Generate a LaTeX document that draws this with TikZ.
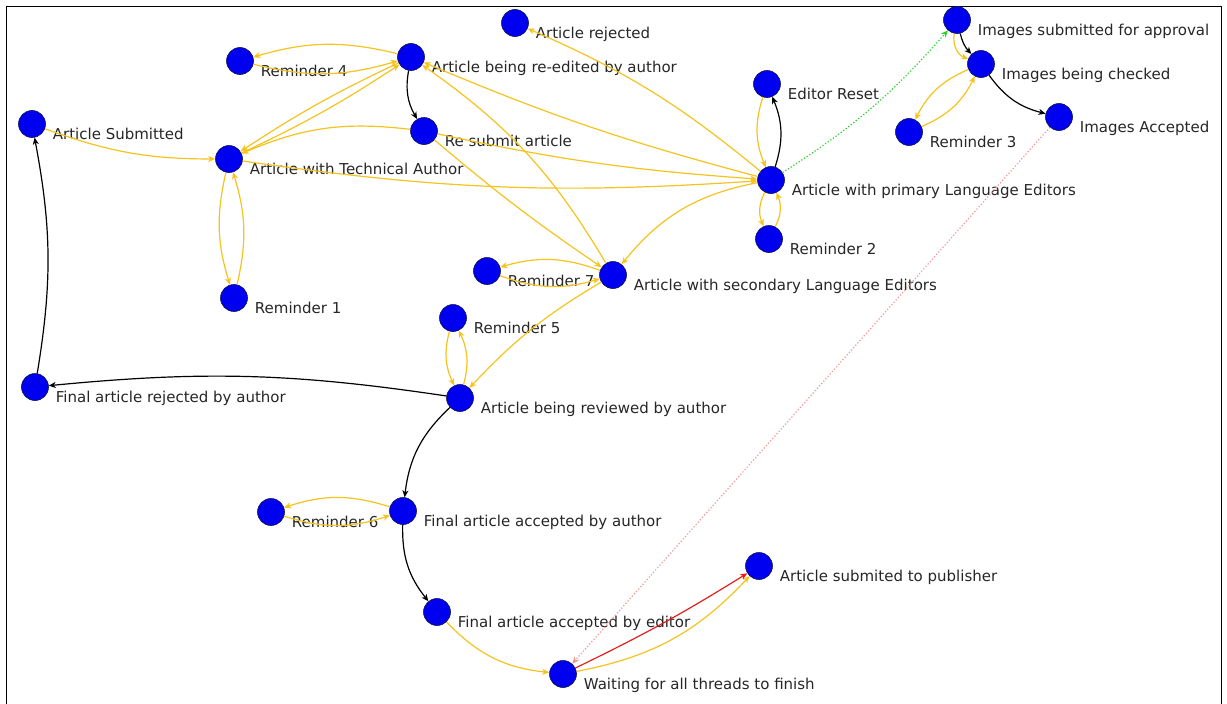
\documentclass[tikz,border=0pt]{standalone}
\usepackage{fontspec}
\setmainfont{DejaVu Sans}
\usetikzlibrary{arrows.meta}

\definecolor{edgegold}{RGB}{245,195,30}
\definecolor{nodeblue}{RGB}{0,0,240}
\definecolor{rimblue}{RGB}{20,20,80}
\definecolor{dotgreen}{RGB}{40,210,40}
\definecolor{dotpink}{RGB}{240,150,150}
\definecolor{arrowred}{RGB}{230,30,30}

\begin{document}
\begin{tikzpicture}[x=1pt,y=-1pt,->,>={Stealth[length=7pt,width=6pt,inset=2pt]},line width=1.2pt,
    main node/.style={circle,draw=rimblue,fill=nodeblue,line width=0.6pt,minimum size=27pt,inner sep=0pt},
    lbl/.style={xshift=1.5pt,yshift=-11.75pt,inner sep=5pt,text height=11pt,text depth=3.5pt,text=black!85,font=\fontsize{15}{18}\selectfont}]
    \useasboundingbox (0,0) rectangle (1227,704);
    \draw[-,line width=1pt] (6,704) -- (6,6) -- (1221,6) -- (1221,704);

    \node[main node,label={[lbl]right:Article Submitted}] (sub) at (32,124) {};
    \node[main node,label={[lbl]right:Article with Technical Author}] (tech) at (229,159) {};
    \node[main node,label={[lbl]right:Reminder 1}] (rem1) at (234,298) {};
    \node[main node,label={[lbl]right:Reminder 4}] (rem4) at (240,61) {};
    \node[main node,label={[lbl]right:Article being re-edited by author}] (reed) at (411,57) {};
    \node[main node,label={[lbl]right:Re submit article}] (resub) at (424,131) {};
    \node[main node,label={[lbl]right:Article rejected}] (rej) at (515,23) {};
    \node[main node,label={[lbl]right:Article with primary Language Editors}] (prim) at (771,180) {};
    \node[main node,label={[lbl]right:Editor Reset}] (reset) at (767,84) {};
    \node[main node,label={[lbl]right:Reminder 2}] (rem2) at (769,239) {};
    \node[main node,label={[lbl]right:Article with secondary Language Editors}] (sec) at (613,275) {};
    \node[main node,label={[lbl]right:Reminder 7}] (rem7) at (487,271) {};
    \node[main node,label={[lbl]right:Reminder 5}] (rem5) at (453,318) {};
    \node[main node,label={[lbl]right:Article being reviewed by author}] (review) at (460,398) {};
    \node[main node,label={[lbl]right:Final article rejected by author}] (finrej) at (35,387) {};
    \node[main node,label={[lbl]right:Final article accepted by author}] (finacc) at (403,511) {};
    \node[main node,label={[lbl]right:Reminder 6}] (rem6) at (271,512) {};
    \node[main node,label={[lbl]right:Final article accepted by editor}] (fined) at (437,612) {};
    \node[main node,label={[lbl]right:Waiting for all threads to finish}] (wait) at (563,674) {};
    \node[main node,label={[lbl]right:Article submited to publisher}] (pub) at (759,566) {};
    \node[main node,label={[lbl]right:Images submitted for approval}] (imgsub) at (957,20) {};
    \node[main node,label={[lbl]right:Images being checked}] (imgchk) at (981,64) {};
    \node[main node,label={[lbl]right:Reminder 3}] (rem3) at (909,132) {};
    \node[main node,label={[lbl]right:Images Accepted}] (imgacc) at (1059,117) {};

    \path[edgegold]
        (sub) edge[bend right=10] (tech)
        (tech) edge[bend right=15] (rem1)
        (rem1) edge[bend right=15] (tech)
        (reed) edge[bend right=15] (rem4)
        (rem4) edge[bend right=15] (reed)
        (tech) edge[bend right=4] (reed)
        (reed) edge[bend right=4] (tech)
        (resub) edge[bend right=15] (tech)
        (tech) edge[bend right=6] (prim)
        (resub) edge[bend right=4] (prim)
        (prim) edge[bend left=4] (reed)
        (prim) edge[bend right=8] (rej)
        (resub) edge[bend right=3] (sec)
        (sec) edge[bend right=12] (reed)
        (prim) edge[bend right=20] (sec)
        (reset) edge[bend right=20] (prim)
        (prim) edge[bend right=25] (rem2)
        (rem2) edge[bend right=25] (prim)
        (imgsub) edge[bend right=40] (imgchk)
        (imgchk) edge[bend right=20] (rem3)
        (rem3) edge[bend right=20] (imgchk)
        (sec) edge[bend right=18] (rem7)
        (rem7) edge[bend right=18] (sec)
        (sec) edge[bend right=8] (review)
        (rem5) edge[bend right=20] (review)
        (review) edge[bend right=20] (rem5)
        (finacc) edge[bend right=18] (rem6)
        (rem6) edge[bend right=18] (finacc)
        (fined) edge[bend right=20] (wait)
        (wait) edge[bend right=18] (pub)
        ;
    \path[black]
        (reed) edge[bend right=20] (resub)
        (prim) edge[bend right=20] (reset)
        (imgsub) edge[bend right=15] (imgchk)
        (imgchk) edge[bend right=20] (imgacc)
        (review) edge[bend right=7] (finrej)
        (finrej) edge[bend right=10] (sub)
        (review) edge[bend right=20] (finacc)
        (finacc) edge[bend right=20] (fined)
        ;
    \path[dotgreen,dotted] (prim) edge[bend right=8] (imgsub);
    \path[dotpink,dotted] (imgacc) edge (wait);
    \path[arrowred] (wait) edge[bend right=3] (pub);
\end{tikzpicture}
\end{document}
